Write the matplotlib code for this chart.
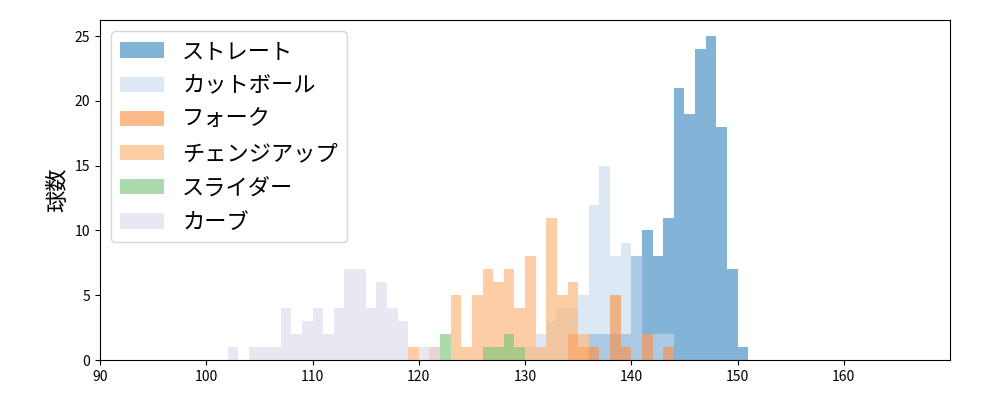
import matplotlib
matplotlib.use("Agg")
import matplotlib.pyplot as plt
import numpy as np

plt.rcParams['font.family'] = ['Noto Sans CJK JP', 'DejaVu Sans']

names = ["ストレート", "カットボール", "フォーク", "チェンジアップ", "スライダー", "カーブ"]
colors = ["#3182bd", "#c6dbef", "#fd8d3c", "#fdae6b", "#74c476", "#dadaeb"]

straight = {136: 2, 137: 2, 138: 2, 139: 2, 140: 8, 141: 10, 142: 8, 143: 11, 144: 21,
            145: 19, 146: 24, 147: 25, 148: 18, 149: 7, 150: 1}
cutball = {130: 1, 131: 2, 132: 3, 133: 4, 134: 4, 135: 5, 136: 12, 137: 15, 138: 8,
           139: 9, 140: 8, 141: 2, 142: 2, 143: 2}
fork = {134: 2, 135: 1, 136: 1, 138: 5, 139: 1, 141: 2, 143: 1}
changeup = {119: 1, 121: 1, 123: 5, 124: 1, 125: 5, 126: 7, 127: 6, 128: 7, 129: 4,
            130: 8, 131: 1, 132: 11, 133: 5, 134: 6, 135: 2}
slider = {122: 2, 126: 1, 127: 1, 128: 2, 129: 1}
curve = {102: 1, 104: 1, 105: 1, 106: 1, 107: 4, 108: 2, 109: 3, 110: 4, 111: 2, 112: 4,
         113: 7, 114: 7, 115: 4, 116: 6, 117: 4, 118: 3, 120: 1, 121: 1}
series = [straight, cutball, fork, changeup, slider, curve]

fig, ax = plt.subplots(figsize=(10, 4), dpi=100)
bins = np.arange(90, 171, 1)
for d, n, c in zip(series, names, colors):
    vals = np.array(list(d.keys()), dtype=float) + 0.5
    w = np.array(list(d.values()), dtype=float)
    ax.hist(vals, bins=bins, weights=w, color=c, alpha=0.6, label=n)

ax.set_xlim(90, 170)
ax.set_xticks(range(90, 170, 10))
ax.set_yticks(range(0, 26, 5))
ax.set_ylabel("球数", fontsize=16)
ax.legend(loc="upper left", fontsize=16)
fig.subplots_adjust(left=0.1, right=0.95, top=0.95, bottom=0.1)
fig.savefig("out.png")
